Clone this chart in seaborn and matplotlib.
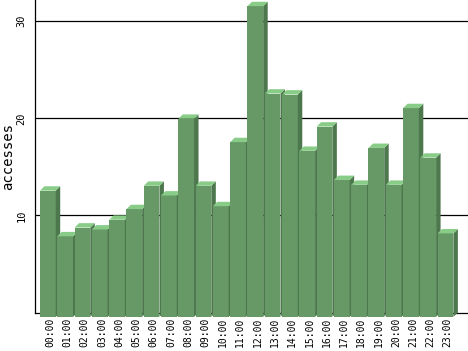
import matplotlib
matplotlib.use("Agg")
import matplotlib.pyplot as plt
import numpy as np
import pandas as pd
import seaborn as sns
from matplotlib.patches import Polygon

hours = ["00:00", "01:00", "02:00", "03:00", "04:00", "05:00", "06:00", "07:00",
         "08:00", "09:00", "10:00", "11:00", "12:00", "13:00", "14:00", "15:00",
         "16:00", "17:00", "18:00", "19:00", "20:00", "21:00", "22:00", "23:00"]
accesses = [13.0, 8.3, 9.2, 9.0, 10.0, 11.1, 13.5, 12.5, 20.4, 13.5, 11.4, 18.0,
            32.0, 23.0, 22.9, 17.1, 19.6, 14.1, 13.6, 17.4, 13.6, 21.5, 16.4, 8.6]
y_ticks = [10, 20, 30]

FRONT = "#669966"
TOP = "#88cc88"
SIDE = "#4d774d"

sns.set_theme(style="white")
plt.rcParams["font.family"] = ["DejaVu Sans Mono", "DejaVu Sans"]

fig = plt.figure(figsize=(4.68, 3.51), dpi=100)
ax = fig.add_axes([35 / 468, 38.5 / 351, 433 / 468, 312.5 / 351])

df = pd.DataFrame({"hour": hours, "accesses": accesses})
sns.barplot(data=df, x="hour", y="accesses", color=FRONT, saturation=1,
            width=0.91, linewidth=0, ax=ax)

# 3D depth (data units)
dx, dy = 0.26, 0.45
for i, p in enumerate(list(ax.patches)):
    z = 3 + i * 0.01
    p.set_zorder(z)
    p.set_clip_on(False)
    x0 = p.get_x()
    w = p.get_width()
    h = p.get_height()
    x1 = x0 + w
    side = Polygon([(x1, 0), (x1, h), (x1 + dx, h + dy), (x1 + dx, dy)],
                   closed=True, facecolor=SIDE, edgecolor="none",
                   zorder=z + 0.001, clip_on=False)
    top = Polygon([(x0, h), (x1, h), (x1 + dx, h + dy), (x0 + dx, h + dy)],
                  closed=True, facecolor=TOP, edgecolor="none",
                  zorder=z + 0.002, clip_on=False)
    ax.add_patch(side)
    ax.add_patch(top)

ax.set_xlim(-0.743, 24.3)
ax.set_ylim(dy, dy + 312.5 / 9.71)

ax.set_axisbelow(True)
ax.set_yticks([t + dy for t in y_ticks])
ax.set_yticklabels([str(t) for t in y_ticks], rotation=90, va="center")
ax.yaxis.grid(True, color="black", linewidth=0.9)
ax.xaxis.grid(False)

ax.set_xticks(np.arange(len(hours)) + dx / 2)
ax.set_xticklabels(hours, rotation=90)

ax.tick_params(axis="both", length=0, colors="black")
ax.tick_params(axis="y", labelsize=7.5, pad=6)
ax.tick_params(axis="x", labelsize=7, pad=4)

for s in ["top", "right"]:
    ax.spines[s].set_visible(False)
for s in ["left", "bottom"]:
    ax.spines[s].set_color("black")
    ax.spines[s].set_linewidth(0.9)

ax.set_xlabel("")
ax.set_ylabel("accesses", fontsize=10, color="black")
ax.yaxis.set_label_coords(-0.046, 0.5)

fig.savefig("out.png", dpi=100)
